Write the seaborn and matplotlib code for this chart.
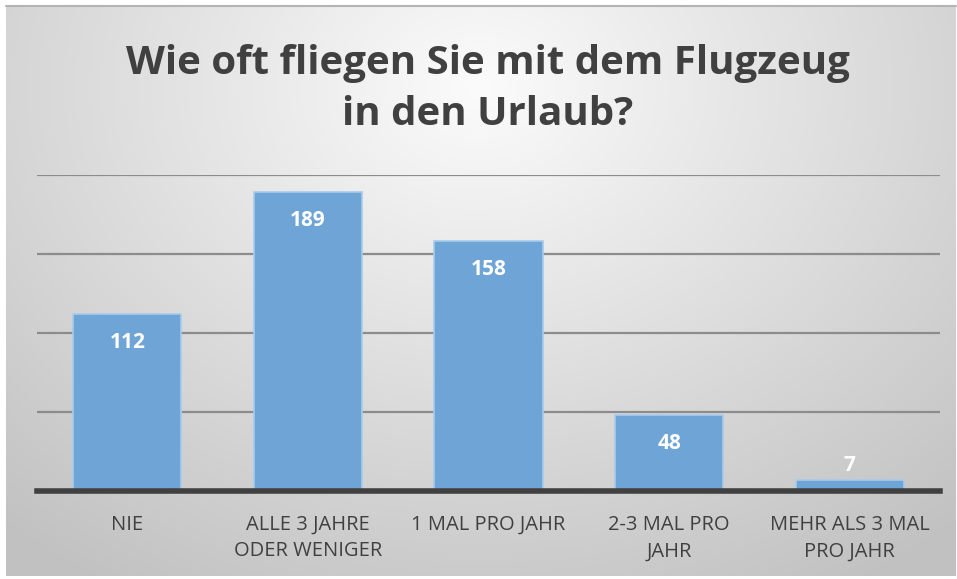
import numpy as np
import pandas as pd
import matplotlib
matplotlib.use("Agg")
import matplotlib.pyplot as plt
import seaborn as sns

categories = ["NIE", "ALLE 3 JAHRE\nODER WENIGER", "1 MAL PRO JAHR", "2-3 MAL PRO\nJAHR", "MEHR ALS 3 MAL\nPRO JAHR"]
values = [112, 189, 158, 48, 7]
title = "Wie oft fliegen Sie mit dem Flugzeug\nin den Urlaub?"

sns.set_theme(style="white")
FONT = ["Open Sans", "DejaVu Sans"]
plt.rcParams["font.family"] = FONT

W, H = 957, 579
fig = plt.figure(figsize=(W / 100, H / 100), dpi=100, facecolor="white")

# radial gradient background (inset chart area)
bg = fig.add_axes([0, 0, 1, 1], zorder=0)
bg.set_xlim(0, W)
bg.set_ylim(H, 0)
bg.set_axis_off()
x0, x1, y0, y1 = 6, 956, 6, 576
yy, xx = np.mgrid[y0:y1, x0:x1]
cx, cy = W * 0.5, H * 0.15
r = np.sqrt(((xx - cx) / (W * 0.75)) ** 2 + ((yy - cy) / (H * 1.0)) ** 2)
r = np.clip(r, 0, 1)
top_c = np.array([0.985, 0.985, 0.985])
edge_c = np.array([0.76, 0.76, 0.76])
img = top_c[None, None, :] * (1 - r[..., None]) + edge_c[None, None, :] * r[..., None]
bg.imshow(img, aspect="auto", extent=[x0, x1, y1, y0])
bg.plot([x0, x1], [5.5, 5.5], color="#b4b4b4", lw=1.5)
bg.set_xlim(0, W)
bg.set_ylim(H, 0)

left, right = 37 / W, 940 / W
bottom, top = (H - 491) / H, (H - 175) / H
ax = fig.add_axes([left, bottom, right - left, top - bottom], zorder=1)
ax.patch.set_alpha(0)

df = pd.DataFrame({"cat": categories, "val": values})
sns.barplot(data=df, x="cat", y="val", ax=ax, color="#6fa5d6", width=0.6,
            edgecolor="#a8cbec", linewidth=1.2, saturation=1, zorder=3)

ax.set_xlim(-0.5, len(categories) - 0.5)
ax.set_ylim(0, 200)
ax.set_yticks([50, 100, 150, 200])
ax.set_yticklabels([])
ax.yaxis.grid(True, color="#8c8c8c", lw=1.6, zorder=0)
ax.set_axisbelow(True)
for s in ["left", "right", "top"]:
    ax.spines[s].set_visible(False)
ax.spines["bottom"].set_color("#404040")
ax.spines["bottom"].set_linewidth(4)
ax.spines["bottom"].set_zorder(5)
ax.tick_params(axis="both", length=0)
ax.tick_params(axis="x", pad=17)
ax.set_xlabel("")
ax.set_ylabel("")
for lbl in ax.get_xticklabels():
    lbl.set_fontsize(14.5)
    lbl.set_color("#404040")
    lbl.set_linespacing(1.45)
    lbl.set_verticalalignment("top")

for i, v in enumerate(values):
    if v > 20:
        ax.annotate(str(v), (i, v), xytext=(0, -28), textcoords="offset pixels",
                    ha="center", va="center", color="white", fontsize=15, fontweight="bold", zorder=6)
    else:
        ax.annotate(str(v), (i, v), xytext=(0, 14), textcoords="offset pixels",
                    ha="center", va="center", color="white", fontsize=15, fontweight="bold", zorder=6)

fig.text(488 / W, 1 - 89 / H, title, ha="center", va="center", fontsize=29, fontweight="bold",
         color="#404040", linespacing=1.42)

fig.savefig("out.png", dpi=100, facecolor="white")
